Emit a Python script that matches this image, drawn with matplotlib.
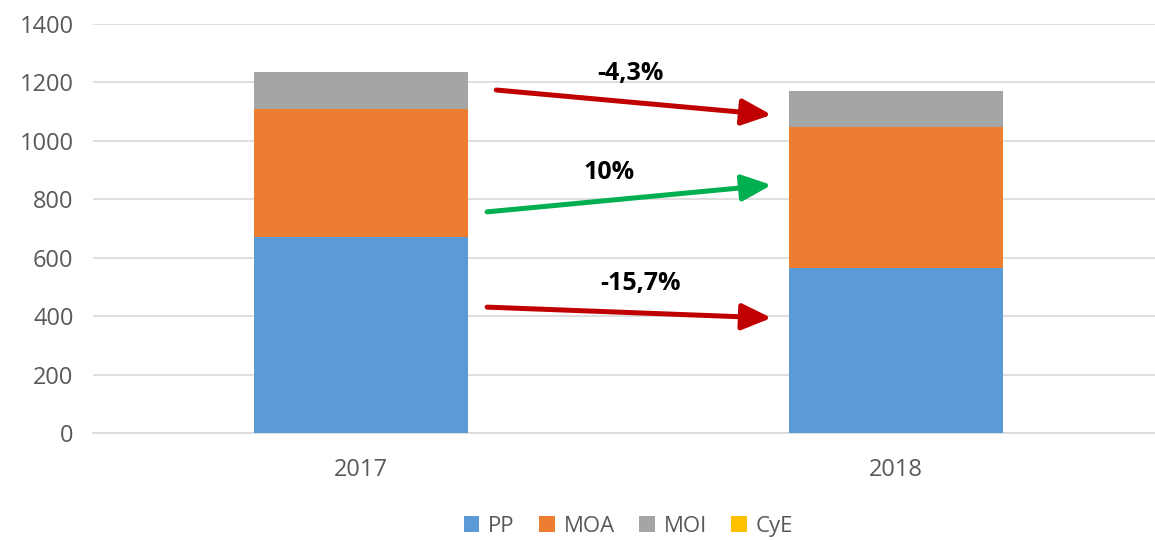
import numpy as np
import matplotlib.pyplot as plt

plt.rcParams['font.family'] = ['Open Sans', 'DejaVu Sans']

years = ['2017', '2018']
pp = [671, 564]
moa = [438, 485]
moi = [128, 121]
cye = [0, 2]
series = [('PP', pp, '#5B9BD5'), ('MOA', moa, '#ED7D31'),
          ('MOI', moi, '#A5A5A5'), ('CyE', cye, '#FFC000')]

# annotation arrows: (start x, start y, end x, end y, label, label x, label y, colour)
arrows = [
    (0.253, 1174, 0.767, 1089, '-4,3%', 0.503, 1232, '#C00000'),
    (0.236, 757, 0.767, 849, '10%', 0.464, 893, '#00B050'),
    (0.236, 431, 0.767, 394, '-15,7%', 0.522, 513, '#C00000'),
]

fig = plt.figure(figsize=(11.55, 5.4), dpi=100)
ax = fig.add_axes([0.0805, 0.198, 0.9273, 0.7576])

x = np.arange(len(years))
bottom = np.zeros(len(years))
for name, vals, col in series:
    ax.bar(x, vals, 0.4, bottom=bottom, color=col, label=name, zorder=3)
    bottom += np.array(vals)

for x0, y0, x1, y1, lab, tx, ty, col in arrows:
    ax.annotate('', xy=(x1, y1), xytext=(x0, y0),
                arrowprops=dict(arrowstyle='-|>,head_length=1.8,head_width=0.8',
                                color=col, lw=3.6, shrinkA=0, shrinkB=0),
                zorder=5)
    ax.text(tx, ty, lab, ha='center', va='center', fontsize=18,
            fontweight='bold', color='black', zorder=6)

ax.set_xlim(-0.5, 1.5)
ax.set_ylim(0, 1400)
ax.set_yticks(range(0, 1401, 200))
ax.set_xticks(x)
ax.set_xticklabels(years)
ax.grid(axis='y', color='#D9D9D9', lw=1.2, zorder=0)
for s in ['top', 'right', 'left']:
    ax.spines[s].set_visible(False)
ax.spines['bottom'].set_color('#D9D9D9')
ax.spines['bottom'].set_linewidth(1.2)
ax.tick_params(axis='both', length=0, labelsize=17, colors='#595959', pad=14)
ax.tick_params(axis='x', pad=18)

ax.legend(loc='center', bbox_to_anchor=(0.5, -0.228), ncol=4, frameon=False,
          fontsize=16, handlelength=0.7, handleheight=0.7, handletextpad=0.4,
          columnspacing=1.1, labelcolor='#595959', borderpad=0)

fig.savefig('out.png', dpi=100)
